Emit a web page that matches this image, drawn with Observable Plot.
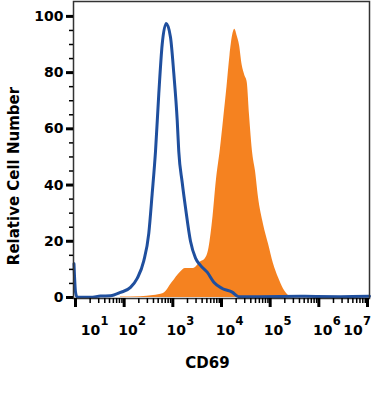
<!DOCTYPE html>
<html>
<head>
<meta charset="utf-8">
<script src="https://cdn.jsdelivr.net/npm/d3@7"></script>
<script src="https://cdn.jsdelivr.net/npm/@observablehq/plot@0.6"></script>
<style>
  html, body { margin: 0; padding: 0; background: #fff; }
</style>
</head>
<body>
<div id="chart"></div>
<script>
// log10 of CD69 fluorescence intensity and relative cell number
const isotypeExp = [0.969,1.0,1.031,1.308,1.514,1.719,1.925,2.130,2.268,2.403,2.506,2.576,2.644,2.712,2.781,2.864,2.952,3.020,3.090,3.122,3.192,3.260,3.363,3.466,3.568,3.706,3.842,4.014,4.220,4.349,4.801,5.623,6.445,7.04];
const isotypeCount = [12,2,0.2,0.1,0.5,0.6,1.8,3.6,6.8,13,22.8,37,52,72.6,90,97.5,92.6,79.7,63,52,41,32,20,14,11.4,9,5.4,3.2,1.9,0.3,0.3,0.4,0.3,0.4];

const stimExp = [1.925,2.336,2.603,2.808,2.987,3.157,3.260,3.424,3.568,3.671,3.733,3.815,3.897,3.979,4.041,4.113,4.174,4.226,4.273,4.322,4.370,4.425,4.479,4.528,4.575,4.643,4.698,4.760,4.863,4.966,5.068,5.171,5.274,5.376,5.438];
const stimCount = [0.2,0.3,0.7,1.4,5.3,9,10.3,10.3,12.6,13.9,16.7,27,42,53,63,75,86,93,95.4,93,89.7,82.6,79,76.6,65,51,45,35.6,26,19,12,7,3,0.7,0];

const yMajorTicks = [0,20,40,60,80,100];
const yMinorTicks = [5,10,15,25,30,35,45,50,55,65,70,75,85,90,95];
const xTickExponents = [1,2,3,4,5,6,7];
const xTickLabelAt = [1.31,2.08,3.07,4.08,5.07,6.08,6.70];
const xLabel = "CD69";
const yLabel = "Relative Cell Number";

const isotype = isotypeExp.map((e,i) => ({x: 10 ** e, y: isotypeCount[i]}));
const stim = stimExp.map((e,i) => ({x: 10 ** e, y: stimCount[i]}));
const xMajor = xTickExponents.map(e => 10 ** e);
const xMinor = [];
for (const e of xTickExponents.slice(0, -1)) for (let k = 2; k <= 9; k++) xMinor.push(k * 10 ** e);

const chart = Plot.plot({
  width: 371,
  height: 395,
  marginLeft: 73,
  marginRight: 2,
  marginTop: 1,
  marginBottom: 97,
  style: {fontFamily: "'DejaVu Sans', sans-serif", fontWeight: "bold", fontSize: "14px", color: "black", background: "white"},
  x: {type: "log", domain: [10 ** 0.959, 10 ** 7.041], axis: null},
  y: {domain: [-0.36, 105.3], axis: null},
  marks: [
    Plot.areaY(stim, {x: "x", y: "y", fill: "#f58220", curve: "monotone-x"}),
    Plot.line(isotype, {x: "x", y: "y", stroke: "#1f4f9e", strokeWidth: 3, curve: "monotone-x"}),
    Plot.frame({stroke: "#333", strokeWidth: 1.5}),
    Plot.axisY(yMajorTicks, {tickSize: 7, tickPadding: 3, strokeWidth: 3, stroke: "black", fill: "black", fontSize: 14, fontWeight: "bold", label: null}),
    Plot.axisY(yMinorTicks, {tickSize: 4, strokeWidth: 1.5, stroke: "black", tickFormat: () => "", label: null}),
    Plot.axisX(xMajor, {tickSize: 9, strokeWidth: 3, stroke: "black", tickFormat: () => "", label: null}),
    Plot.axisX(xMinor, {tickSize: 5, strokeWidth: 1.5, stroke: "black", tickFormat: () => "", label: null}),
    Plot.text(xTickExponents, {x: (d, i) => 10 ** xTickLabelAt[i], frameAnchor: "bottom", text: () => "10", dy: 36, fontSize: 14, fontWeight: "bold", fill: "black"}),
    Plot.text(xTickExponents, {x: (d, i) => 10 ** xTickLabelAt[i], frameAnchor: "bottom", text: d => String(d), textAnchor: "start", dx: 10, dy: 26, fontSize: 11.5, fontWeight: "bold", fill: "black"}),
    Plot.text([xLabel], {frameAnchor: "bottom", text: d => d, dx: -14, dy: 69, fontSize: 15, fontWeight: "bold", fill: "black"}),
    Plot.text([yLabel], {frameAnchor: "left", textAnchor: "middle", lineAnchor: "middle", text: d => d, rotate: -90, dx: -59, dy: 26, fontSize: 15, fontWeight: "bold", fill: "black"})
  ]
});
document.getElementById("chart").appendChild(chart);
</script>
</body>
</html>
